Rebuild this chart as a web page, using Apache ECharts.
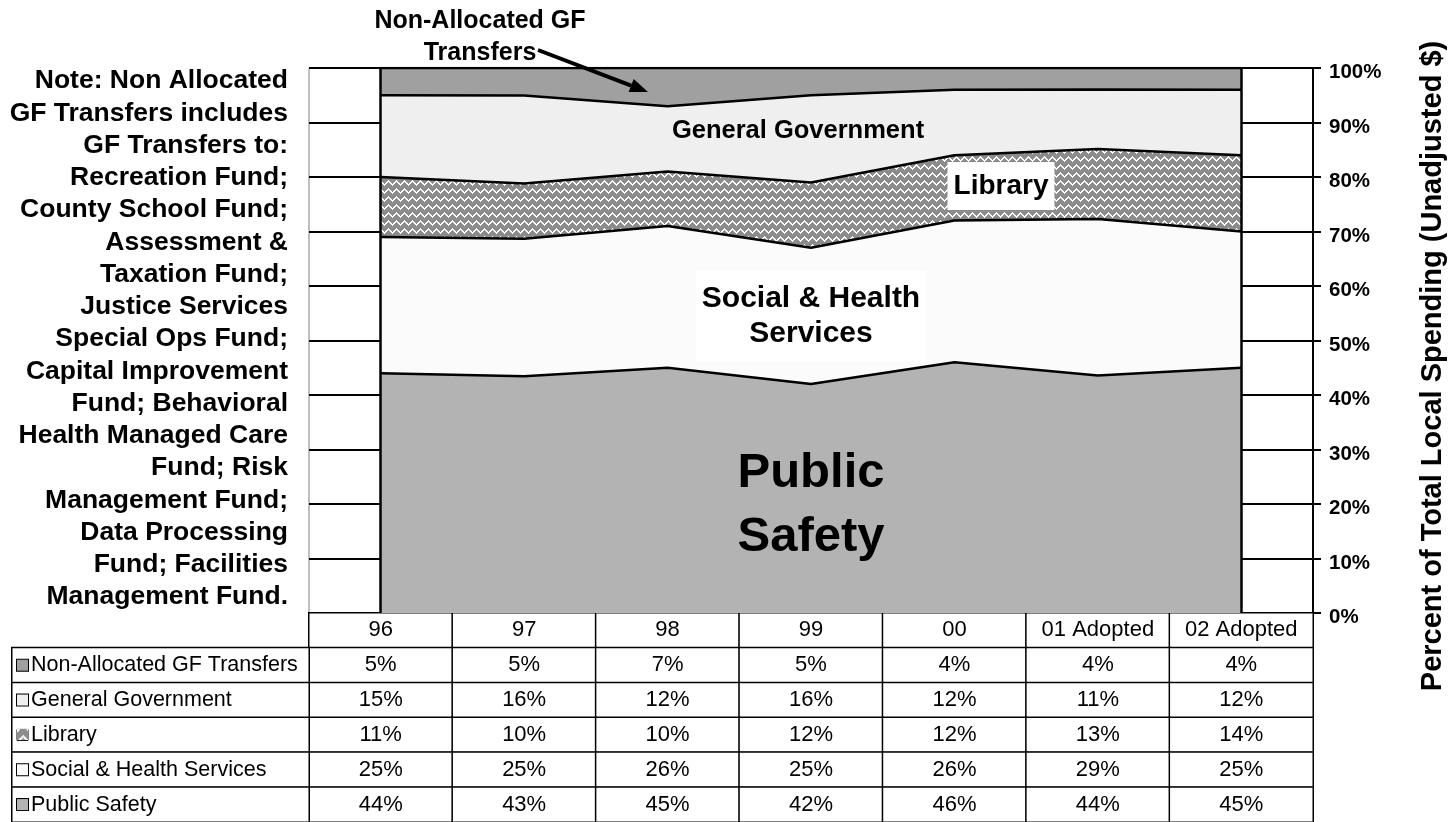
<!DOCTYPE html>
<html>
<head>
<meta charset="utf-8">
<script src="https://cdn.jsdelivr.net/npm/echarts@6.0.0/dist/echarts.min.js"></script>
<style>
html, body { margin: 0; padding: 0; background: #fff; }
#chart { width: 1456px; height: 822px; }
</style>
</head>
<body>
<div id="chart"></div>
<script>
// data (table values, percent of total)
var years = ['96', '97', '98', '99', '00', '01 Adopted', '02 Adopted'];
var nonAllocated = [5, 5, 7, 5, 4, 4, 4];
var generalGov = [15, 16, 12, 16, 12, 11, 12];
var library = [11, 10, 10, 12, 12, 13, 14];
var socialHealth = [25, 25, 26, 25, 26, 29, 25];
var publicSafety = [44, 43, 45, 42, 46, 44, 45];

var noteLines = [
    'Note: Non Allocated', 'GF Transfers includes', 'GF Transfers to:',
    'Recreation Fund;', 'County School Fund;', 'Assessment &',
    'Taxation Fund;', 'Justice Services', 'Special Ops Fund;',
    'Capital Improvement', 'Fund; Behavioral', 'Health Managed Care',
    'Fund; Risk', 'Management Fund;', 'Data Processing',
    'Fund; Facilities', 'Management Fund.'
];

var FONT = '"Liberation Sans", Arial, sans-serif';

// basket weave fill used for Library
function makePattern() {
    var c = document.createElement('canvas');
    c.width = 8;
    c.height = 8;
    var ctx = c.getContext('2d');
    var img = ctx.createImageData(8, 8);
    for (var y = 0; y < 8; y++) {
        for (var x = 0; x < 8; x++) {
            var white;
            if (x < 4) {
                white = ((x + y) % 8) < 2;
            } else {
                white = ((y - x + 16) % 8) < 2;
            }
            var v = white ? 255 : 140;
            var k = (y * 8 + x) * 4;
            img.data[k] = v;
            img.data[k + 1] = v;
            img.data[k + 2] = v;
            img.data[k + 3] = 255;
        }
    }
    ctx.putImageData(img, 0, 0);
    return c;
}
var libPattern = { image: makePattern(), repeat: 'repeat' };

// rows in table order (top to bottom)
var rows = [
    { name: 'Non-Allocated GF Transfers', data: nonAllocated, color: '#a0a0a0' },
    { name: 'General Government', data: generalGov, color: '#efefef' },
    { name: 'Library', data: library, color: libPattern },
    { name: 'Social & Health Services', data: socialHealth, color: '#fbfbfb' },
    { name: 'Public Safety', data: publicSafety, color: '#b3b3b3' }
];

// normalise each year to 100%
var totals = years.map(function (y, i) {
    var s = 0;
    rows.forEach(function (r) { s += r.data[i]; });
    return s;
});

var areaSeries = [];
for (var k = rows.length - 1; k >= 0; k--) {
    (function (r, top) {
        var s = {
            name: r.name,
            type: 'line',
            stack: 'total',
            xAxisIndex: 0,
            yAxisIndex: 0,
            symbol: 'none',
            silent: true,
            lineStyle: { color: '#000', width: 2.5 },
            areaStyle: { color: r.color, opacity: 1 },
            data: r.data.map(function (v, i) { return v / totals[i] * 100; })
        };
        if (top) {
            // side edges of the area block
            s.markLine = {
                silent: true,
                symbol: 'none',
                label: { show: false },
                lineStyle: { color: '#000', width: 2.5, type: 'solid' },
                data: [{ xAxis: 0 }, { xAxis: years.length - 1 }]
            };
        }
        areaSeries.push(s);
    })(rows[k], k === 0);
}

// table cells
var tableRows = ['header'].concat(rows.map(function (r) { return r.name; }));
var tableCells = [];
for (var ry = 0; ry < tableRows.length; ry++) {
    for (var cx = 0; cx < years.length; cx++) {
        tableCells.push([cx, ry, 0]);
    }
}
var legendCells = rows.map(function (r, i) { return [0, i, 0]; });

var richMarks = {
    t: { fontSize: 21.5, fontFamily: FONT, color: '#000', padding: [0, 0, 0, 3] }
};
rows.forEach(function (r, i) {
    richMarks['m' + i] = {
        width: 11, height: 11,
        backgroundColor: r.color,
        borderColor: '#000', borderWidth: 1
    };
});

var chartDom = document.getElementById('chart');
var chart = echarts.init(chartDom);

// arrow for the Non-Allocated callout
var arrowFrom = [538, 50], arrowTo = [648, 92];
var dx = arrowTo[0] - arrowFrom[0], dy = arrowTo[1] - arrowFrom[1];
var len = Math.sqrt(dx * dx + dy * dy);
var ux = dx / len, uy = dy / len;
var headBase = [arrowTo[0] - ux * 18, arrowTo[1] - uy * 18];
var arrowHead = [
    arrowTo,
    [headBase[0] - uy * 7, headBase[1] + ux * 7],
    [headBase[0] + uy * 7, headBase[1] - ux * 7]
];

var option = {
    animation: false,
    backgroundColor: '#fff',
    textStyle: { fontFamily: FONT },
    grid: [
        { left: 309, right: 143, top: 68, bottom: 209, show: true, borderColor: '#808080', borderWidth: 1, backgroundColor: 'transparent' },
        { left: 309, right: 143, top: 613, bottom: 0 },
        { left: 12, width: 297, top: 647.8, bottom: 0 }
    ],
    xAxis: [
        { type: 'category', gridIndex: 0, data: years, boundaryGap: true, show: false },
        { type: 'category', gridIndex: 1, data: years, show: false },
        { type: 'category', gridIndex: 2, data: ['legend'], show: false }
    ],
    yAxis: [
        {
            type: 'value', gridIndex: 0, position: 'right', min: 0, max: 100, interval: 10,
            axisLine: { show: true, lineStyle: { color: '#000', width: 2 } },
            axisTick: { show: true, length: 8, lineStyle: { color: '#000', width: 2 } },
            axisLabel: {
                formatter: '{value}%', fontSize: 20.5, fontWeight: 'bold', color: '#000',
                margin: 16, verticalAlign: 'top', lineHeight: 9, fontFamily: FONT
            },
            splitLine: { show: true, lineStyle: { color: '#000', width: 2 } }
        },
        { type: 'category', gridIndex: 1, data: tableRows, inverse: true, show: false },
        { type: 'category', gridIndex: 2, data: rows.map(function (r) { return r.name; }), inverse: true, show: false }
    ],
    series: areaSeries.concat([
        {
            type: 'heatmap',
            xAxisIndex: 1,
            yAxisIndex: 1,
            silent: true,
            data: tableCells,
            itemStyle: { color: '#fff', borderColor: '#000', borderWidth: 1.5 },
            label: {
                show: true, color: '#000', fontSize: 22, fontFamily: FONT,
                formatter: function (p) {
                    var c = p.value[0], r = p.value[1];
                    return r === 0 ? years[c] : rows[r - 1].data[c] + '%';
                }
            }
        },
        {
            type: 'heatmap',
            xAxisIndex: 2,
            yAxisIndex: 2,
            silent: true,
            data: legendCells,
            itemStyle: { color: '#fff', borderColor: '#000', borderWidth: 1.5 },
            label: {
                show: true, position: 'insideLeft', distance: 6,
                formatter: function (p) {
                    var i = p.value[1];
                    return '{m' + i + '|}{t|' + rows[i].name + '}';
                },
                rich: richMarks
            }
        }
    ]),
    graphic: [
        {
            type: 'text', z: 10, x: 288, y: 339,
            style: {
                text: noteLines.join('\n'),
                font: 'bold 26.5px ' + FONT, fill: '#000',
                align: 'right', verticalAlign: 'middle', lineHeight: 32.25
            }
        },
        {
            // right axis title
            type: 'text', z: 10, x: 1433, y: 366, rotation: Math.PI / 2,
            style: {
                text: 'Percent of Total Local Spending (Unadjusted $)',
                font: 'bold 29px ' + FONT, fill: '#000',
                align: 'center', verticalAlign: 'middle'
            }
        },
        {
            type: 'text', z: 10, x: 480, y: 37,
            style: {
                text: 'Non-Allocated GF\nTransfers', font: 'bold 25px ' + FONT, fill: '#000',
                align: 'center', verticalAlign: 'middle', lineHeight: 32
            }
        },
        {
            type: 'line', z: 10,
            shape: { x1: arrowFrom[0], y1: arrowFrom[1], x2: headBase[0], y2: headBase[1] },
            style: { stroke: '#000', lineWidth: 4 }
        },
        {
            type: 'polygon', z: 10,
            shape: { points: arrowHead },
            style: { fill: '#000' }
        },
        {
            type: 'text', z: 10, x: 798, y: 131,
            style: {
                text: 'General Government', font: 'bold 25.5px ' + FONT, fill: '#000',
                align: 'center', verticalAlign: 'middle'
            }
        },
        {
            type: 'text', z: 10, x: 1001, y: 186,
            style: {
                text: 'Library', font: 'bold 28px ' + FONT, fill: '#000',
                align: 'center', verticalAlign: 'middle',
                backgroundColor: '#fff', padding: [10, 6, 10, 6]
            }
        },
        {
            type: 'text', z: 10, x: 811, y: 316,
            style: {
                text: 'Social & Health\nServices', font: 'bold 30px ' + FONT, fill: '#000',
                align: 'center', verticalAlign: 'middle', lineHeight: 35,
                backgroundColor: '#fff', padding: [10, 6, 10, 6]
            }
        },
        {
            type: 'text', z: 10, x: 811, y: 505,
            style: {
                text: 'Public\nSafety', font: 'bold 49px ' + FONT, fill: '#000',
                align: 'center', verticalAlign: 'middle', lineHeight: 64
            }
        }
    ]
};

option && chart.setOption(option);
</script>
</body>
</html>
